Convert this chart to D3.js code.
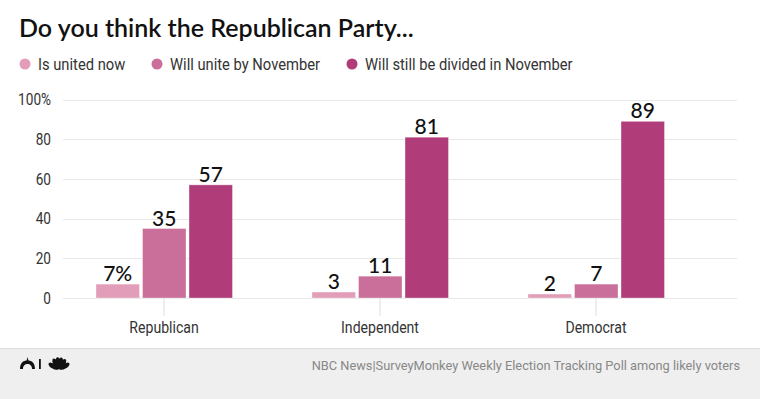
<!DOCTYPE html>
<html>
<head>
<meta charset="utf-8">
<script src="https://cdn.jsdelivr.net/npm/d3@7"></script>
<style>
  body { margin: 0; background: #fff; }
  .cond { font-family: Roboto, "Liberation Sans", sans-serif; }
  .head { font-family: Lato, "Open Sans", sans-serif; }
</style>
</head>
<body>
<script>
// Chart data
var groups = ["Republican", "Independent", "Democrat"];
var seriesNames = ["Is united now", "Will unite by November", "Will still be divided in November"];
var unitedNow = [7, 3, 2];
var uniteByNov = [35, 11, 7];
var stillDivided = [57, 81, 89];
var yTicks = [0, 20, 40, 60, 80, 100];
var colors = ["#e29db8", "#ca6f9a", "#b03c79"];

var width = 760, height = 399;

// the source uses a condensed face; squeeze the text horizontally to match
function condense(sel, factor) {
    sel.each(function() {
        var len = this.getComputedTextLength();
        d3.select(this)
            .attr("textLength", len * factor)
            .attr("lengthAdjust", "spacingAndGlyphs");
    });
}

var svg = d3.select("body")
    .append("svg")
    .attr("width", width)
    .attr("height", height);

var seriesValues = [unitedNow, uniteByNov, stillDivided];

// scales
var x0 = d3.scaleBand()
    .domain(groups)
    .range([56, 704]);

var x1 = d3.scaleBand()
    .domain(d3.range(seriesNames.length))
    .range([40, 176.5])
    .paddingInner(0.065);

var yScale = d3.scaleLinear()
    .domain([0, 100])
    .range([298, 99.5]);

// title
svg.append("text")
    .attr("class", "head")
    .attr("x", 19)
    .attr("y", 37)
    .attr("font-size", 25)
    .attr("font-weight", 600)
    .attr("fill", "#111")
    .text("Do you think the Republican Party...");

// legend
var legendX = [25, 157, 352];
var legend = svg.selectAll(".legend")
    .data(seriesNames)
    .enter()
    .append("g")
    .attr("class", "legend")
    .attr("transform", function(d, i) { return "translate(" + legendX[i] + ",64)"; });

legend.append("circle")
    .attr("r", 5.5)
    .attr("fill", function(d, i) { return colors[i]; });

legend.append("text")
    .attr("class", "cond")
    .attr("x", 13)
    .attr("dy", "0.35em")
    .attr("font-size", 16)
    .attr("fill", "#333")
    .text(function(d) { return d; })
    .call(condense, 0.92);

// gridlines
svg.append("g")
    .selectAll("line")
    .data(yTicks)
    .enter()
    .append("line")
    .attr("x1", 63)
    .attr("x2", 737)
    .attr("y1", function(d) { return Math.round(yScale(d)) + 0.5; })
    .attr("y2", function(d) { return Math.round(yScale(d)) + 0.5; })
    .attr("stroke", "#e8e8e8")
    .attr("stroke-width", 1);

// y axis labels
var yAxis = d3.axisLeft(yScale)
    .tickValues(yTicks)
    .tickSize(0)
    .tickPadding(0)
    .tickFormat(function(d) { return d === 100 ? "100%" : d; });

var gy = svg.append("g")
    .attr("transform", "translate(51,0)")
    .call(yAxis);
gy.select(".domain").remove();
gy.selectAll("text")
    .attr("class", "cond")
    .attr("font-size", 16)
    .attr("fill", "#333")
    .call(condense, 0.85);

// x axis
var xAxis = d3.axisBottom(x0)
    .tickSize(18)
    .tickPadding(6);

var gx = svg.append("g")
    .attr("transform", "translate(0,298)")
    .call(xAxis);
gx.select(".domain").remove();
gx.selectAll(".tick line").attr("stroke", "#ddd");
gx.selectAll("text")
    .attr("class", "cond")
    .attr("font-size", 16)
    .attr("fill", "#333")
    .call(condense, 0.88);

// bars
var groupSel = svg.selectAll(".group")
    .data(groups)
    .enter()
    .append("g")
    .attr("class", "group")
    .attr("transform", function(d) { return "translate(" + x0(d) + ",0)"; });

groupSel.selectAll("rect")
    .data(function(d, gi) { return seriesValues.map(function(s, si) { return { si: si, v: s[gi] }; }); })
    .enter()
    .append("rect")
    .attr("x", function(d) { return x1(d.si); })
    .attr("width", x1.bandwidth())
    .attr("y", function(d) { return yScale(d.v); })
    .attr("height", function(d) { return yScale(0) - yScale(d.v); })
    .attr("fill", function(d) { return colors[d.si]; })
    .attr("stroke", "#fff")
    .attr("stroke-opacity", 0.35)
    .attr("stroke-width", 1);

// value labels
groupSel.selectAll(".val")
    .data(function(d, gi) { return seriesValues.map(function(s, si) { return { si: si, gi: gi, v: s[gi] }; }); })
    .enter()
    .append("text")
    .attr("class", "val head")
    .attr("x", function(d) { return x1(d.si) + x1.bandwidth() / 2; })
    .attr("y", function(d) { return yScale(d.v) - 3; })
    .attr("text-anchor", "middle")
    .attr("font-size", 21)
    .attr("font-weight", 500)
    .attr("fill", "#111")
    .text(function(d) { return (d.gi === 0 && d.si === 0) ? d.v + "%" : d.v; });

// footer
svg.append("rect")
    .attr("x", 0)
    .attr("y", 348)
    .attr("width", width)
    .attr("height", height - 348)
    .attr("fill", "#efefef");
svg.append("line")
    .attr("x1", 0).attr("x2", width)
    .attr("y1", 348.5).attr("y2", 348.5)
    .attr("stroke", "#dcdcdc");

// small logo: dome, divider, peacock
var logo = svg.append("g").attr("transform", "translate(20,357)");
logo.append("path")
    .attr("d", "M0,12 C0,6 3,3.5 7.5,3.5 C12,3.5 15,6 15,12 L12,12 C12,8.5 10,7 7.5,7 C5,7 3,8.5 3,12 Z")
    .attr("fill", "#111");
logo.append("path")
    .attr("d", "M6.5,4 L7.5,0 L8.5,4 Z")
    .attr("fill", "#111");
logo.append("rect").attr("x", 19).attr("y", 2).attr("width", 1.8).attr("height", 10).attr("fill", "#111");
var feathers = [-62, -30, -8, 12, 34, 62];
feathers.forEach(function(a) {
    logo.append("ellipse")
        .attr("cx", 0).attr("cy", -6)
        .attr("rx", 2.6).attr("ry", 5.8)
        .attr("transform", "translate(39,12) rotate(" + a + ")")
        .attr("fill", "#111");
});

svg.append("text")
    .attr("class", "cond")
    .attr("x", 740)
    .attr("y", 366)
    .attr("dy", "0.35em")
    .attr("text-anchor", "end")
    .attr("font-size", 12.8)
    .attr("fill", "#888")
    .text("NBC News|SurveyMonkey Weekly Election Tracking Poll among likely voters");
</script>
</body>
</html>
